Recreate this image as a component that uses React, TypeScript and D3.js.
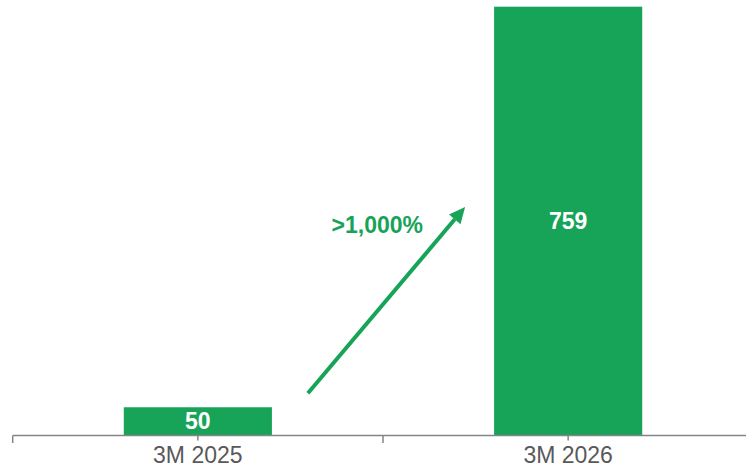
import React from 'react';
import * as d3 from 'd3';

const categories: string[] = ['3M 2025', '3M 2026'];
const values: number[] = [50, 759];
const valueLabels: string[] = ['50', '759'];
const growthLabel = '>1,000%';

const W = 746;
const H = 470;
const GREEN = '#17a358';
const FONT = '"Liberation Sans", Arial, sans-serif';

export default function App() {
  const x = d3
    .scaleBand<string>()
    .domain(categories)
    .range([12.7, 753.3])
    .paddingInner(0.6)
    .paddingOuter(0.3);
  const y = d3.scaleLinear().domain([0, 759]).range([435.5, 6.7]);
  const step = x.step();
  const x0 = 12.7;
  const boundaries = d3.range(categories.length + 1).map((i) => x0 + i * step);

  const bw = x.bandwidth();
  const ax1 = (x(categories[0]) as number) + bw + 36;
  const ay1 = y(values[0]) - 14;
  const ax2 = (x(categories[1]) as number) - 29;
  const ay2 = y(values[1] / 2) - 14;
  const ang = Math.atan2(ay2 - ay1, ax2 - ax1);
  const headLen = 16;
  const headW = 7.5;
  const bx = ax2 - headLen * Math.cos(ang);
  const by = ay2 - headLen * Math.sin(ang);
  const px = -Math.sin(ang);
  const py = Math.cos(ang);
  const head = [
    [ax2, ay2],
    [bx + px * headW, by + py * headW],
    [bx - px * headW, by - py * headW],
  ];

  return (
    <svg
      width={W}
      height={H}
      style={{ position: 'absolute', left: 0, top: 0, display: 'block', background: '#fff' }}
      fontFamily={FONT}
    >
      {categories.map((c, i) => (
        <rect
          key={c}
          x={x(c)}
          y={y(values[i])}
          width={bw}
          height={y(0) - y(values[i])}
          fill={GREEN}
        />
      ))}
      <line x1={12.7} x2={W} y1={y(0)} y2={y(0)} stroke="#858585" strokeWidth={1.5} />
      {boundaries.map((b, i) => (
        <line key={'b' + i} x1={b} x2={b} y1={y(0)} y2={y(0) + 7.5} stroke="#858585" strokeWidth={1.5} />
      ))}
      {categories.map((c) => {
        const cx = (x(c) as number) + bw / 2;
        return (
          <line key={'t' + c} x1={cx} x2={cx} y1={y(0)} y2={y(0) + 5} stroke="#858585" strokeWidth={1.5} />
        );
      })}
      {categories.map((c) => (
        <text
          key={'l' + c}
          x={(x(c) as number) + bw / 2}
          y={463.3}
          textAnchor="middle"
          fontSize={23}
          fill="#595959"
        >
          {c}
        </text>
      ))}
      <text
        x={(x(categories[0]) as number) + bw / 2}
        y={y(0) - 6.5}
        textAnchor="middle"
        fontSize={23}
        fontWeight="bold"
        fill="#fff"
      >
        {valueLabels[0]}
      </text>
      <text
        x={(x(categories[1]) as number) + bw / 2}
        y={y(values[1] / 2) + 8.3}
        textAnchor="middle"
        fontSize={23}
        fontWeight="bold"
        fill="#fff"
      >
        {valueLabels[1]}
      </text>
      <line x1={ax1} y1={ay1} x2={bx} y2={by} stroke={GREEN} strokeWidth={4} />
      <polygon points={head.map((p) => p.join(',')).join(' ')} fill={GREEN} />
      <text x={377.3} y={233.3} textAnchor="middle" fontSize={23} fontWeight="bold" fill={GREEN}>
        {growthLabel}
      </text>
    </svg>
  );
}
